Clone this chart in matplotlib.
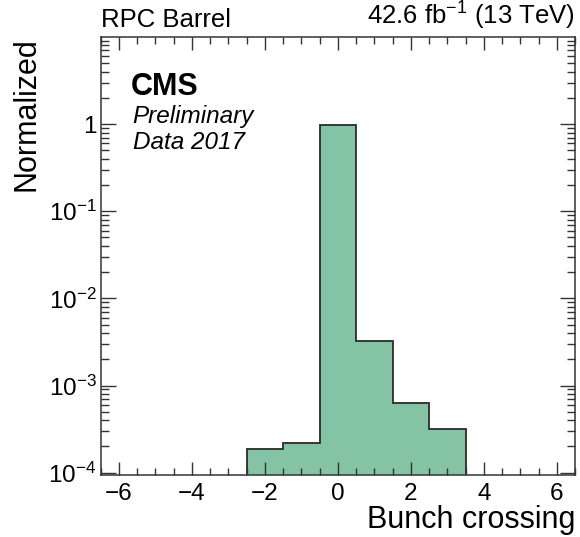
import numpy as np
import matplotlib
matplotlib.use('Agg')
import matplotlib.pyplot as plt
from matplotlib.ticker import FixedLocator, FixedFormatter, LogLocator, MultipleLocator, NullFormatter

plt.rcParams['font.family'] = ['Liberation Sans', 'DejaVu Sans']
plt.rcParams['mathtext.fontset'] = 'custom'
plt.rcParams['mathtext.rm'] = 'Liberation Sans'
plt.rcParams['mathtext.it'] = 'Liberation Sans:italic'
plt.rcParams['mathtext.bf'] = 'Liberation Sans:bold'

# bunch crossing distribution, normalised to unit area
bx_centers = [-2, -1, 0, 1, 2, 3]
bx_fraction = [1.87e-4, 2.2e-4, 0.99, 3.2e-3, 6.3e-4, 3.15e-4]
bx_edges = [-2.5, -1.5, -0.5, 0.5, 1.5, 2.5, 3.5]

y_ticks = [1e-4, 1e-3, 1e-2, 1e-1, 1]
y_ticklabels = ['$10^{-4}$', '$10^{-3}$', '$10^{-2}$', '$10^{-1}$', '1']

fig = plt.figure(figsize=(5.8, 5.37), dpi=100)
ax = fig.add_axes([0.1737, 0.1155, 0.8177, 0.8156])

ax.hist(bx_centers, bins=bx_edges, weights=bx_fraction, histtype='stepfilled',
        facecolor='#84c3a4', edgecolor='#2b2b2b', linewidth=1.3)

ax.set_yscale('log')
ax.set_xlim(-6.5, 6.5)
ax.set_ylim(9.4e-5, 10)

ax.xaxis.set_major_locator(MultipleLocator(2))
ax.xaxis.set_minor_locator(MultipleLocator(0.5))
ax.yaxis.set_major_locator(FixedLocator(y_ticks))
ax.yaxis.set_major_formatter(FixedFormatter(y_ticklabels))
ax.yaxis.set_minor_locator(LogLocator(base=10, subs=np.arange(2, 10), numticks=20))
ax.yaxis.set_minor_formatter(NullFormatter())

ax.tick_params(which='both', direction='in', top=True, right=True, color='#333333', width=1.0)
ax.tick_params(axis='x', which='major', length=9.5, labelsize=17.5, pad=6)
ax.tick_params(axis='x', which='minor', length=4.8)
ax.tick_params(axis='y', which='major', length=10.5, labelsize=17.5, pad=3)
ax.tick_params(axis='y', which='minor', length=5.5)
for s in ax.spines.values():
    s.set_linewidth(1.1)
    s.set_color('#333333')

ax.set_xlabel('Bunch crossing', fontsize=22, loc='right', labelpad=0)
ax.set_ylabel('Normalized', fontsize=22, loc='top', labelpad=5)

ax.text(0.0, 1.012, 'RPC Barrel', transform=ax.transAxes, fontsize=18.5,
        ha='left', va='bottom')
ax.text(1.0, 1.012, r'42.6 fb$^{-1}$ (13 TeV)', transform=ax.transAxes, fontsize=18.5,
        ha='right', va='bottom')
ax.text(0.063, 0.8676, 'CMS', transform=ax.transAxes, fontsize=22, fontweight='bold',
        ha='left', va='baseline')
ax.text(0.067, 0.8037, 'Preliminary', transform=ax.transAxes, fontsize=17.5, style='italic',
        ha='left', va='baseline')
ax.text(0.067, 0.744, 'Data 2017', transform=ax.transAxes, fontsize=17.5, style='italic',
        ha='left', va='baseline')

fig.savefig('out.png', dpi=100)
